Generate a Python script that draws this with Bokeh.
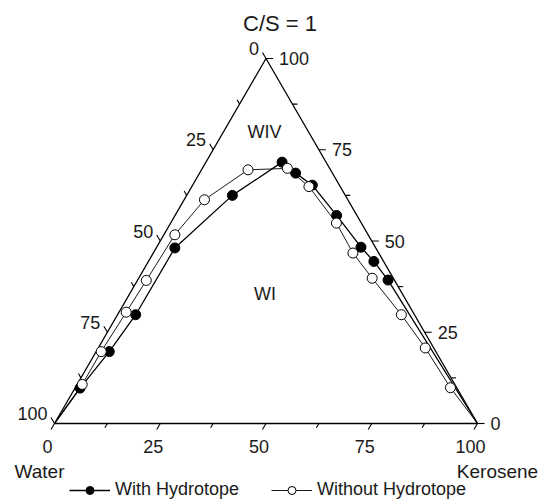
import numpy as np
from bokeh.plotting import figure
from bokeh.models import Range1d, Legend, LegendItem
from bokeh.embed import file_html
from bokeh.resources import INLINE
from bokeh.core.properties import value

# ---------------- data (ternary: kerosene %, surfactant+cosurfactant %) ----------------
title_text = "C/S = 1"
major_ticks = [0, 25, 50, 75, 100]
minor_ticks = [12.5, 37.5, 62.5, 87.5]
tick_labels = ["0", "25", "50", "75", "100"]
vertex_names = ["Water", "Kerosene"]
series_names = ["With Hydrotope", "Without Hydrotope"]

with_kerosene = [0, 1.2, 3.1, 4.3, 4.4, 10.8, 18.0, 22.7, 28.3, 38.2, 48.3, 53.3, 59.2, 100]
with_cs = [0, 9.7, 19.7, 29.8, 48.1, 62.5, 71.6, 68.6, 65.3, 57.0, 48.3, 44.4, 39.3, 0]

without_kerosene = [0, 1.2, 1.2, 1.7, 2.1, 2.6, 4.8, 11.0, 20.1, 27.7, 39.2, 47.2, 55.2, 67.1, 77.3, 88.7, 100]
without_cs = [0, 10.7, 19.7, 30.5, 39.2, 51.7, 61.3, 69.5, 69.9, 64.9, 54.9, 46.7, 39.8, 29.8, 20.7, 9.8, 0]

region_labels = ["WIV", "WI"]
region_kerosene = [9.75, 32.0]
region_cs = [79.8, 35.5]

# ---------------- helpers ----------------
PX_X = 4.23   # pixels per x unit
PX_Y = 3.65   # pixels per y unit
FONT = value("Liberation Sans")
TXT = "#1a1a1a"


def tern(k, s):
    k = np.asarray(k, dtype=float)
    s = np.asarray(s, dtype=float)
    return k + s / 2.0, s


p = figure(width=544, height=500, output_backend="svg", toolbar_location=None,
           x_range=Range1d(-54 / PX_X, (544 - 54) / PX_X),
           y_range=Range1d(-(500 - 423) / PX_Y, 423 / PX_Y),
           x_axis_type=None, y_axis_type=None, min_border=0)
p.grid.visible = False
p.outline_line_color = None
p.background_fill_color = "white"

# triangle
tx, ty = tern([0, 100, 0, 0], [0, 0, 100, 0])
p.line(tx, ty, line_color="black", line_width=1.3)

all_ticks = np.array(major_ticks + minor_ticks, dtype=float)
lens = np.array([7] * len(major_ticks) + [5] * len(minor_ticks), dtype=float)

# bottom axis (kerosene) – ticks parallel to left edge, pointing down-left
bx, by = tern(all_ticks, np.zeros_like(all_ticks))
p.segment(bx, by, bx - 0.502 * lens / PX_X, by - 0.865 * lens / PX_Y, line_color="black", line_width=1.1)
mbx, mby = tern(major_ticks, [0] * 5)
p.text(mbx, mby, text=tick_labels, x_offset=-7, y_offset=23, text_align="center",
       text_baseline="middle", text_font=FONT, text_font_size="18px", text_color=TXT)

# left axis (water) – 0 at apex, 100 at water corner; ticks parallel to right edge
lx, ly = tern(np.zeros_like(all_ticks), 100 - all_ticks)
p.segment(lx, ly, lx - 0.5 * lens / PX_X, ly + 0.866 * lens / PX_Y, line_color="black", line_width=1.1)
mlx, mly = tern([0] * 5, 100 - np.array(major_ticks, dtype=float))
p.text(mlx, mly, text=tick_labels, x_offset=-7, y_offset=-10, text_align="right",
       text_baseline="middle", text_font=FONT, text_font_size="18px", text_color=TXT)

# right axis (C+S) – horizontal ticks
rx, ry = tern(100 - all_ticks, all_ticks)
p.segment(rx, ry, rx + lens / PX_X, ry, line_color="black", line_width=1.1)
mrx, mry = tern(100 - np.array(major_ticks, dtype=float), major_ticks)
p.text(mrx, mry, text=tick_labels, x_offset=13, y_offset=0, text_align="left",
       text_baseline="middle", text_font=FONT, text_font_size="18px", text_color=TXT)

# vertex names
vx, vy = tern([0, 100], [0, 0])
p.text(vx, vy, text=vertex_names, x_offset=[-15, 20], y_offset=48, text_align="center",
       text_baseline="middle", text_font=FONT, text_font_size="19px", text_color=TXT)

# title above apex
ax, ay = tern([0], [100])
p.text(ax, ay, text=[title_text], x_offset=14, y_offset=-35, text_align="center",
       text_baseline="middle", text_font=FONT, text_font_size="22px", text_color=TXT)

# region labels
gx, gy = tern(region_kerosene, region_cs)
p.text(gx, gy, text=region_labels, text_align="center", text_baseline="middle",
       text_font=FONT, text_font_size="18px", text_color=TXT)

# series
wx, wy = tern(with_kerosene, with_cs)
ox, oy = tern(without_kerosene, without_cs)
l_without = p.line(ox, oy, line_color="black", line_width=0.9)
l_with = p.line(wx, wy, line_color="black", line_width=1.3)
s_with = p.scatter(wx[1:-1], wy[1:-1], marker="circle", size=10, fill_color="black", line_color="black")
s_without = p.scatter(ox[1:-1], oy[1:-1], marker="circle", size=10, fill_color="white", line_color="black",
                      line_width=1)

legend = Legend(items=[LegendItem(label=series_names[0], renderers=[l_with, s_with]),
                       LegendItem(label=series_names[1], renderers=[l_without, s_without])],
                orientation="horizontal", location=(69, 0), padding=0, margin=0, spacing=32,
                glyph_width=41, glyph_height=20, label_standoff=5, label_height=20,
                label_text_font="Liberation Sans", label_text_font_size="18px",
                label_text_color=TXT, background_fill_alpha=0, border_line_color=None)
p.add_layout(legend)

open("out.html", "w").write(file_html(p, INLINE))
